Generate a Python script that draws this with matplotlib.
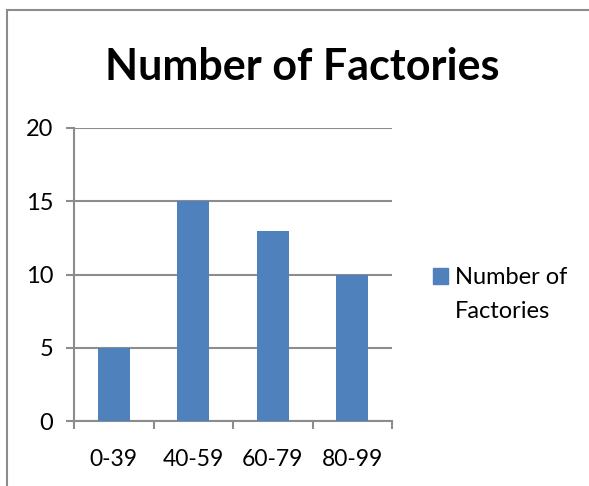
import matplotlib.pyplot as plt
from matplotlib.patches import Rectangle, Patch
import numpy as np

categories = ["0-39", "40-59", "60-79", "80-99"]
factories = [5, 15, 13, 10]
y_ticks = [0, 5, 10, 15, 20]

bar_color = "#4f81bd"
grid_color = "#8c8c8c"

plt.rcParams['font.family'] = ['Lato', 'DejaVu Sans']

fig = plt.figure(figsize=(5.89, 4.86), dpi=100)
ax = fig.add_axes([74 / 589, 1 - 421 / 486, 318 / 589, 293 / 486])

x = np.arange(len(categories))
ax.bar(x, factories, width=0.4, color=bar_color, zorder=3)

ax.set_xlim(-0.5, len(categories) - 0.5)
ax.set_ylim(0, 20)
ax.set_yticks(y_ticks)
ax.yaxis.grid(True, color=grid_color, linewidth=1.5, zorder=0)

# category labels between boundary ticks
ax.set_xticks(np.arange(len(categories) + 1) - 0.5)
ax.set_xticklabels([])
ax.set_xticks(x, minor=True)
ax.set_xticklabels(categories, minor=True, fontsize=16.5)
ax.tick_params(axis='x', which='minor', length=0, pad=20)
ax.tick_params(axis='x', which='major', length=6, width=1.5, color=grid_color, direction='out')
ax.tick_params(axis='y', length=6, width=1.5, color=grid_color, labelsize=17, pad=9)

for side in ['top', 'right']:
    ax.spines[side].set_visible(False)
for side in ['left', 'bottom']:
    ax.spines[side].set_color(grid_color)
    ax.spines[side].set_linewidth(1.5)

fig.text(0.513, 1 - 80 / 486, "Number of Factories", ha='center', va='baseline',
         fontsize=31, fontweight='bold')

# legend: swatch sits level with first line, second line below it
leg = fig.legend(handles=[Patch(color=bar_color, label="Number of")],
                 loc='center left', bbox_to_anchor=(433 / 589, 1 - 278 / 486),
                 frameon=False, borderpad=0, borderaxespad=0,
                 fontsize=17, handlelength=0.64, handleheight=0.64, handletextpad=0.3)
fig.text(455 / 589, 1 - 312 / 486, "Factories", ha='left', va='center', fontsize=17)

# chart border
fig.patches.append(Rectangle((7 / 589, -0.1), 1.2, 1.1 - 10 / 486,
                             transform=fig.transFigure, fill=False,
                             edgecolor=grid_color, linewidth=1.5))

fig.savefig("out.png", dpi=100)
